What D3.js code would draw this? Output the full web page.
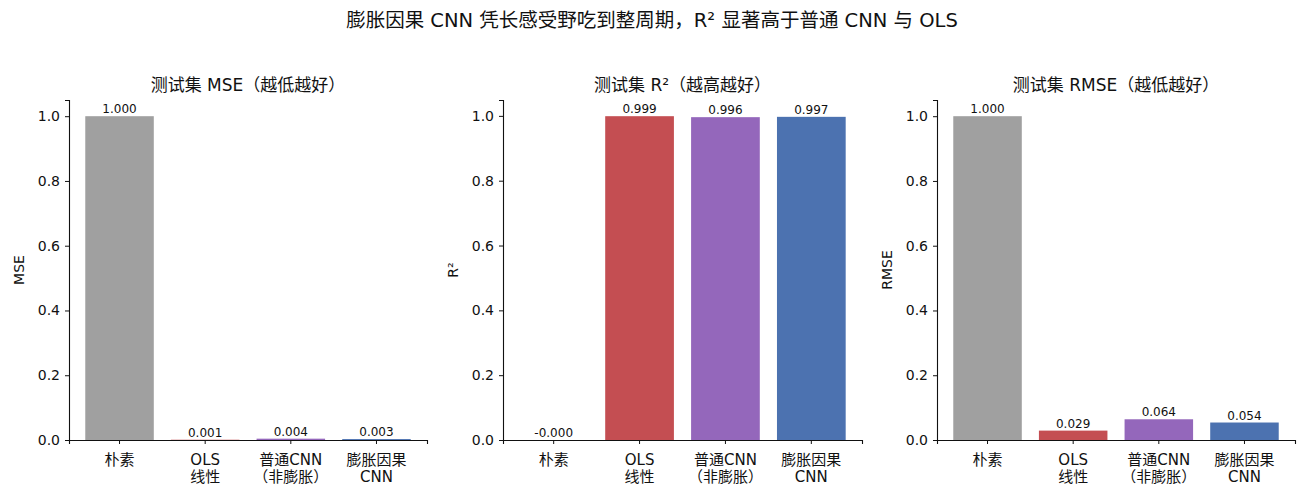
<!DOCTYPE html>
<html>
<head>
<meta charset="utf-8">
<script src="https://cdn.jsdelivr.net/npm/d3@7"></script>
<style>
  body { margin: 0; background: #fff; }
  text { font-family: "DejaVu Sans", "Noto Sans CJK SC", sans-serif; fill: #111; }
</style>
</head>
<body>
<svg id="chart" width="1305" height="497"></svg>
<script>
// categories, two-line tick labels
const categories = ['朴素', 'OLS\n线性', '普通CNN\n（非膨胀）', '膨胀因果\nCNN'];
const barColors = ['#a0a0a0', '#c44e52', '#9467bb', '#4c72b0'];

const mseValues = [1.000, 0.00084, 0.0041, 0.0029];
const r2Values = [-0.0, 0.999, 0.996, 0.997];
const rmseValues = [1.000, 0.029, 0.064, 0.054];
const yTicks = [0.0, 0.2, 0.4, 0.6, 0.8, 1.0];

const panels = [
  {title: '测试集 MSE（越低越好）', ylabel: 'MSE', values: mseValues, left: 69, right: 427},
  {title: '测试集 R²（越高越好）', ylabel: 'R²', values: r2Values, left: 503, right: 862},
  {title: '测试集 RMSE（越低越好）', ylabel: 'RMSE', values: rmseValues, left: 937, right: 1295}
];

const svg = d3.select('#chart');
const plotTop = 100, plotBottom = 440;

svg.append('text')
  .attr('x', 652).attr('y', 27)
  .attr('text-anchor', 'middle')
  .style('font-size', '19.5px')
  .text('膨胀因果 CNN 凭长感受野吃到整周期，R² 显著高于普通 CNN 与 OLS');

panels.forEach(p => {
  const g = svg.append('g');
  const x = d3.scaleBand().domain(d3.range(categories.length))
    .range([p.left, p.right]).paddingInner(0.2).paddingOuter(0.19);
  const y = d3.scaleLinear().domain([0, d3.max(p.values) * 1.05]).range([plotBottom, plotTop]);

  g.selectAll('rect').data(p.values).join('rect')
    .attr('x', (d, i) => x(i))
    .attr('width', x.bandwidth())
    .attr('y', d => y(Math.max(0, d)))
    .attr('height', d => Math.max(0, y(0) - y(Math.max(0, d))) || 0)
    .attr('fill', (d, i) => barColors[i]);

  g.selectAll('text.val').data(p.values).join('text')
    .attr('class', 'val')
    .attr('x', (d, i) => x(i) + x.bandwidth() / 2)
    .attr('y', d => y(Math.max(0, d)) - 3)
    .attr('text-anchor', 'middle')
    .style('font-size', '12px')
    .text(d => (Object.is(d, -0) || (d < 0 && d > -0.0005) ? '-' : '') + Math.abs(d).toFixed(3));

  // y axis
  const yAxis = g.append('g').attr('transform', `translate(${p.left},0)`)
    .call(d3.axisLeft(y).tickValues(yTicks).tickFormat(d3.format('.1f')).tickSize(4).tickPadding(5));
  yAxis.selectAll('text').style('font-size', '14px');

  // x axis
  const xAxis = g.append('g').attr('transform', `translate(0,${plotBottom})`)
    .call(d3.axisBottom(x).tickSize(4).tickFormat(''));
  xAxis.selectAll('.tick').each(function(d) {
    const lines = categories[d].split('\n');
    lines.forEach((ln, k) => {
      d3.select(this).append('text')
        .attr('x', 0).attr('y', 25 + k * 17)
        .attr('text-anchor', 'middle')
        .style('font-size', '15px')
        .style('fill', '#111')
        .text(ln);
    });
  });
  [yAxis, xAxis].forEach(a => {
    a.select('.domain').attr('stroke', '#111').attr('stroke-width', 1.1);
    a.selectAll('.tick line').attr('stroke', '#111');
  });

  g.append('text')
    .attr('x', (p.left + p.right) / 2).attr('y', 91)
    .attr('text-anchor', 'middle')
    .style('font-size', '17px')
    .text(p.title);

  g.append('text')
    .attr('transform', `translate(${p.left - 45},${(plotTop + plotBottom) / 2}) rotate(-90)`)
    .attr('text-anchor', 'middle')
    .style('font-size', '14px')
    .text(p.ylabel);
});
</script>
</body>
</html>
